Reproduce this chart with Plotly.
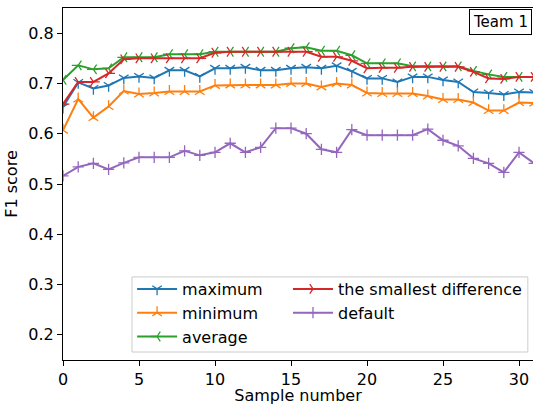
import plotly.graph_objects as go

samples = list(range(32))

maximum = [0.653, 0.702, 0.690, 0.696, 0.711, 0.714, 0.711, 0.726, 0.726, 0.714, 0.730,
           0.730, 0.732, 0.726, 0.726, 0.730, 0.732, 0.730, 0.735, 0.724, 0.710,
           0.710, 0.703, 0.713, 0.713, 0.707, 0.703, 0.683, 0.681, 0.678, 0.683, 0.682]
minimum = [0.607, 0.669, 0.632, 0.654, 0.685, 0.679, 0.681, 0.684, 0.684, 0.684, 0.696,
           0.697, 0.697, 0.697, 0.697, 0.700, 0.700, 0.693, 0.700, 0.697, 0.681,
           0.680, 0.680, 0.680, 0.675, 0.668, 0.668, 0.662, 0.646, 0.646, 0.662, 0.661]
average = [0.707, 0.736, 0.728, 0.730, 0.752, 0.752, 0.752, 0.758, 0.758, 0.758, 0.763,
           0.763, 0.763, 0.763, 0.763, 0.770, 0.772, 0.765, 0.765, 0.756, 0.740,
           0.740, 0.740, 0.734, 0.734, 0.734, 0.734, 0.725, 0.718, 0.713, 0.713, 0.713]
smallest_diff = [0.659, 0.703, 0.703, 0.720, 0.748, 0.750, 0.750, 0.750, 0.750, 0.750, 0.761,
                 0.763, 0.763, 0.763, 0.763, 0.763, 0.763, 0.753, 0.753, 0.745, 0.730,
                 0.731, 0.731, 0.733, 0.733, 0.733, 0.733, 0.723, 0.710, 0.709, 0.713, 0.713]
default = [0.516, 0.534, 0.541, 0.529, 0.542, 0.553, 0.553, 0.553, 0.566, 0.557, 0.563,
           0.581, 0.563, 0.573, 0.611, 0.611, 0.600, 0.569, 0.563, 0.608, 0.597,
           0.597, 0.597, 0.597, 0.609, 0.587, 0.576, 0.551, 0.541, 0.523, 0.563, 0.541]

series = [
    ("maximum", maximum, "#1f77b4", "y-down", "legend"),
    ("minimum", minimum, "#ff7f0e", "y-up", "legend"),
    ("average", average, "#2ca02c", "y-left", "legend"),
    ("the smallest difference", smallest_diff, "#d62728", "y-right", "legend2"),
    ("default", default, "#9467bd", "cross-thin", "legend2"),
]

FONT = "DejaVu Sans"
FS = 16
fig = go.Figure()
for name, vals, color, sym, leg in series:
    fig.add_trace(go.Scatter(
        x=samples, y=vals, name=name, mode="lines+markers",
        line=dict(color=color, width=2),
        marker=dict(symbol=sym, size=8, color=color, line=dict(color=color, width=1.3)),
        legend=leg, hoverinfo="skip",
    ))

legend_common = dict(
    orientation="v", yanchor="top", xanchor="left",
    bgcolor="rgba(0,0,0,0)", borderwidth=0,
    font=dict(family=FONT, size=FS, color="black"),
    itemwidth=40, tracegroupgap=0,
)

fig.update_layout(
    width=533, height=405,
    margin=dict(l=63, r=0, t=8, b=45, autoexpand=False),
    plot_bgcolor="white", paper_bgcolor="white",
    font=dict(family=FONT, size=FS, color="black"),
    showlegend=True, hovermode=False,
    legend=dict(x=0.147, y=0.25, **legend_common),
    legend2=dict(x=0.4787, y=0.25, **legend_common),
    shapes=[dict(
        type="rect", xref="paper", yref="paper", layer="below",
        x0=0.1468, x1=0.989, y0=0.0227, y1=0.236,
        fillcolor="rgba(255,255,255,0.8)", line=dict(color="#cccccc", width=1),
    )],
    xaxis=dict(
        range=[0, 30.92], tickvals=[0, 5, 10, 15, 20, 25, 30], automargin=False,
        showgrid=False, zeroline=False, showline=True, linecolor="black", linewidth=1,
        mirror=True, ticks="outside", ticklen=5, tickcolor="black",
        title=dict(text="Sample number", font=dict(family=FONT, size=FS), standoff=7),
        tickfont=dict(family=FONT, size=FS),
    ),
    yaxis=dict(
        range=[0.15, 0.85], tickvals=[0.2, 0.3, 0.4, 0.5, 0.6, 0.7, 0.8],
        tickformat=".1f", automargin=False,
        showgrid=False, zeroline=False, showline=True, linecolor="black", linewidth=1,
        ticks="outside", ticklen=5, tickcolor="black",
        title=dict(text="F1 score", font=dict(family=FONT, size=FS), standoff=6),
        tickfont=dict(family=FONT, size=FS),
    ),
    annotations=[dict(
        text="Team 1", xref="paper", yref="paper", x=0.997, y=0.998,
        xanchor="right", yanchor="top", showarrow=False,
        font=dict(family=FONT, size=15, color="black"),
        bordercolor="black", borderwidth=1, borderpad=3, bgcolor="white",
    )],
)

# remove the default 8px page margin so the 533x405 figure fills the window exactly
fig.write_html(
    "out.html",
    config={"displayModeBar": False},
    post_script="document.body.style.margin='0';document.documentElement.style.overflow='hidden';",
)
